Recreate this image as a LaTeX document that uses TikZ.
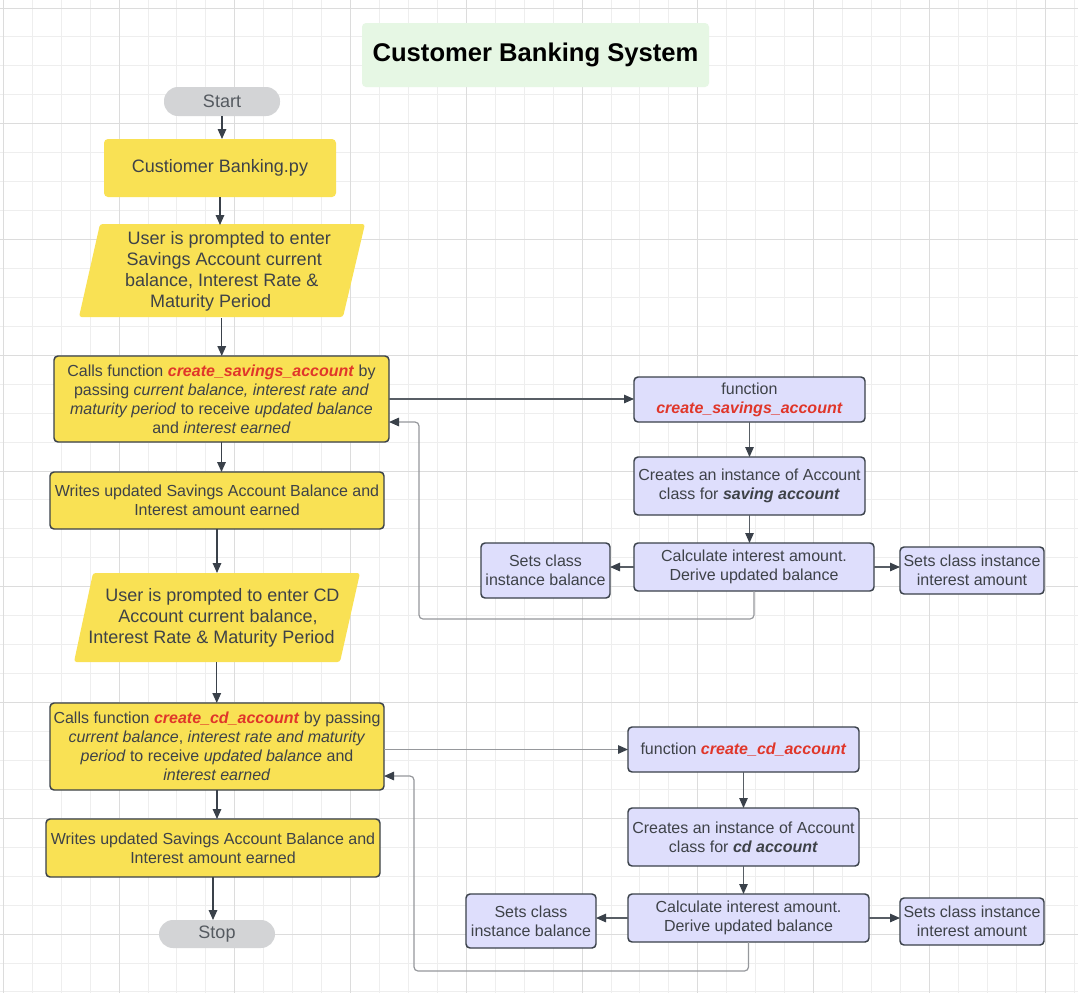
\documentclass[tikz,border=0pt]{standalone}
\usepackage{fontspec}
\setmainfont{Liberation Sans}
\usetikzlibrary{arrows.meta,calc}
\definecolor{ylw}{RGB}{249,225,84}
\definecolor{lav}{RGB}{222,222,252}
\definecolor{ttlc}{RGB}{230,247,228}
\definecolor{termc}{RGB}{211,212,214}
\definecolor{bord}{RGB}{58,65,74}
\definecolor{txt}{RGB}{62,66,72}
\definecolor{termtxt}{RGB}{85,90,96}
\definecolor{fnred}{RGB}{224,54,42}
\definecolor{gmin}{RGB}{238,238,238}
\definecolor{gmaj}{RGB}{220,220,220}
\definecolor{retc}{RGB}{150,152,156}
\newcommand{\fnname}[1]{\textcolor{fnred}{\textbf{\textit{#1}}}}
\tikzset{
  sz/.style 2 args={minimum width=#1*0.75pt,minimum height=#2*0.75pt},
  base/.style={inner sep=0pt,outer sep=0pt,align=center,text=txt,
    font=\fontsize{12}{14.25}\selectfont},
  big/.style={font=\fontsize{13.5}{15.75}\selectfont},
  ybox/.style={base,fill=ylw,draw=bord,line width=1.1pt,rounded corners=3pt},
  pbox/.style={base,fill=lav,draw=bord,line width=1.1pt,rounded corners=3pt},
  termbox/.style={base,big,fill=termc,rounded corners=10.5pt,text=termtxt},
  plain/.style={base,big},
  arr/.style={draw=bord,line width=1.1pt,-{Triangle[length=7.5pt,width=6.4pt]}},
  arrthin/.style={draw=bord!85,line width=0.8pt,-{Triangle[length=7.5pt,width=6.4pt,color=bord]}},
  ret/.style={draw=retc,line width=0.9pt,rounded corners=3pt,-{Triangle[length=7.5pt,width=6.4pt,color=bord]}},
}
\begin{document}
\begin{tikzpicture}[x=0.75pt,y=-0.75pt]
% background and grid
\fill[white] (0,0) rectangle (1078,993);
\useasboundingbox (0,0) rectangle (1078,993);
\foreach \i in {0,...,37} {\draw[gmin,line width=0.75pt] ({3.3+28.94*\i},0) -- ({3.3+28.94*\i},993);}
\foreach \j in {0,...,34} {\draw[gmin,line width=0.75pt] (0,{8+28.94*\j}) -- (1078,{8+28.94*\j});}
\foreach \i in {0,4,...,36} {\draw[gmaj,line width=0.75pt] ({3.3+28.94*\i},0) -- ({3.3+28.94*\i},993);}
\foreach \j in {0,4,...,32} {\draw[gmaj,line width=0.75pt] (0,{8+28.94*\j}) -- (1078,{8+28.94*\j});}

% title
\node[base,sz={347}{64},fill=ttlc,rounded corners=3pt,text=black,
  font=\fontsize{19.2}{22}\selectfont\bfseries] (title) at (535.5,55) {Customer Banking System};

% left column
\node[termbox,sz={116}{29}] (start) at (222,101.5) {Start};
\node[base,big,sz={232}{58},fill=ylw,rounded corners=3pt] (cb) at (220,168) {Custiomer Banking.py};

\fill[ylw,rounded corners=2pt] (100,224) -- (365,224) -- (343,317) -- (79,317) -- cycle;
\node[plain,sz={265}{93}] (para1) at (221.75,271.5)
  {\hspace*{11.25pt}User is prompted to enter\\
   \hspace*{3.75pt}Savings Account current\\
   balance, Interest Rate \&\hspace*{6pt}\\
   Maturity Period\hspace*{16.5pt}};

\node[ybox,sz={335}{86}] (calls1) at (221.5,399)
  {Calls function \fnname{create\_savings\_account} by\\
   passing \textit{current balance, interest rate and}\\
   \textit{maturity period} to receive \textit{updated balance}\\
   and \textit{interest earned}};

\node[ybox,sz={334}{57}] (writes1) at (217,500.5)
  {Writes updated Savings Account Balance and\\Interest amount earned};

\fill[ylw,rounded corners=2pt] (93,573) -- (360,573) -- (340,662) -- (74,662) -- cycle;
\node[plain,sz={267}{89}] (para2) at (216.75,617.5)
  {\hspace*{8.6pt}User is prompted to enter CD\\
   \hspace*{1.9pt}Account current balance,\\
   Interest Rate \& Maturity Period\hspace*{7.9pt}};

\node[ybox,sz={334}{87}] (calls2) at (217,746.5)
  {Calls function \fnname{create\_cd\_account} by passing\\
   \textit{current balance}, \textit{interest rate and maturity}\\
   \textit{period} to receive \textit{updated balance} and\\
   \textit{interest earned}};

\node[ybox,sz={334}{58}] (writes2) at (213,848)
  {Writes updated Savings Account Balance and\\Interest amount earned};

\node[termbox,sz={116}{28}] (stop) at (217,934) {Stop};

% right column, savings
\node[pbox,sz={231}{45}] (fn1) at (749.5,399.5) {function\\\fnname{create\_savings\_account}};
\node[pbox,sz={231}{58}] (cr1) at (749.5,486) {Creates an instance of Account\\class for \textbf{\textit{saving account}}};
\node[pbox,sz={240}{48}] (calc1) at (754,567) {Calculate interest amount.\\Derive updated balance};
\node[pbox,sz={129}{55}] (bal1) at (545.5,570.5) {Sets class\\instance balance};
\node[pbox,sz={144}{47}] (int1) at (972,570.5) {Sets class instance\\interest amount};

% right column, cd
\node[pbox,sz={231}{45}] (fn2) at (743.5,749.5) {function \fnname{create\_cd\_account}};
\node[pbox,sz={231}{58}] (cr2) at (743.5,837) {Creates an instance of Account\\class for \textbf{\textit{cd account}}};
\node[pbox,sz={241}{48}] (calc2) at (748.5,918) {Calculate interest amount.\\Derive updated balance};
\node[pbox,sz={130}{54}] (bal2) at (531,921) {Sets class\\instance balance};
\node[pbox,sz={144}{47}] (int2) at (972,921.5) {Sets class instance\\interest amount};

% main flow
\draw[arr] (start.south) -- (start.south |- cb.north);
\draw[arr] (cb.south) -- (cb.south |- para1.north);
\draw[arr] (para1.south) -- (para1.south |- calls1.north);
\draw[arr] (calls1.south) -- (calls1.south |- writes1.north);
\draw[arr] (writes1.south) -- (writes1.south |- para2.north);
\draw[arr] (para2.south) -- (para2.south |- calls2.north);
\draw[arr] (calls2.south) -- (calls2.south |- writes2.north);
\draw[arr] (writes2.south) -- (writes2.south |- stop.north);

% savings function flow
\draw[arrthin] (calls1.east) -- (calls1.east -| fn1.west);
\draw[arrthin] (fn1.south) -- (fn1.south |- cr1.north);
\draw[arrthin] (cr1.south) -- (cr1.south |- calc1.north);
\draw[arrthin] (calc1.west) -- (calc1.west -| bal1.east);
\draw[arrthin] (calc1.east) -- (calc1.east -| int1.west);
\coordinate (r1) at (419,619);
\coordinate (in1) at ($(calls1.south east)+(0,-20)$);
\draw[ret] (calc1.south) |- (r1) |- (in1);

% cd function flow
\draw[ret,rounded corners=0pt] (calls2.east |- fn2.west) -- (fn2.west);
\draw[arrthin] (fn2.south) -- (fn2.south |- cr2.north);
\draw[arrthin] (cr2.south) -- (cr2.south |- calc2.north);
\draw[arrthin] (calc2.west) -- (calc2.west -| bal2.east);
\draw[arrthin] (calc2.east) -- (calc2.east -| int2.west);
\coordinate (r2) at (414,971);
\coordinate (in2) at ($(calls2.south east)+(0,-14)$);
\draw[ret] (calc2.south) |- (r2) |- (in2);
\end{tikzpicture}
\end{document}
